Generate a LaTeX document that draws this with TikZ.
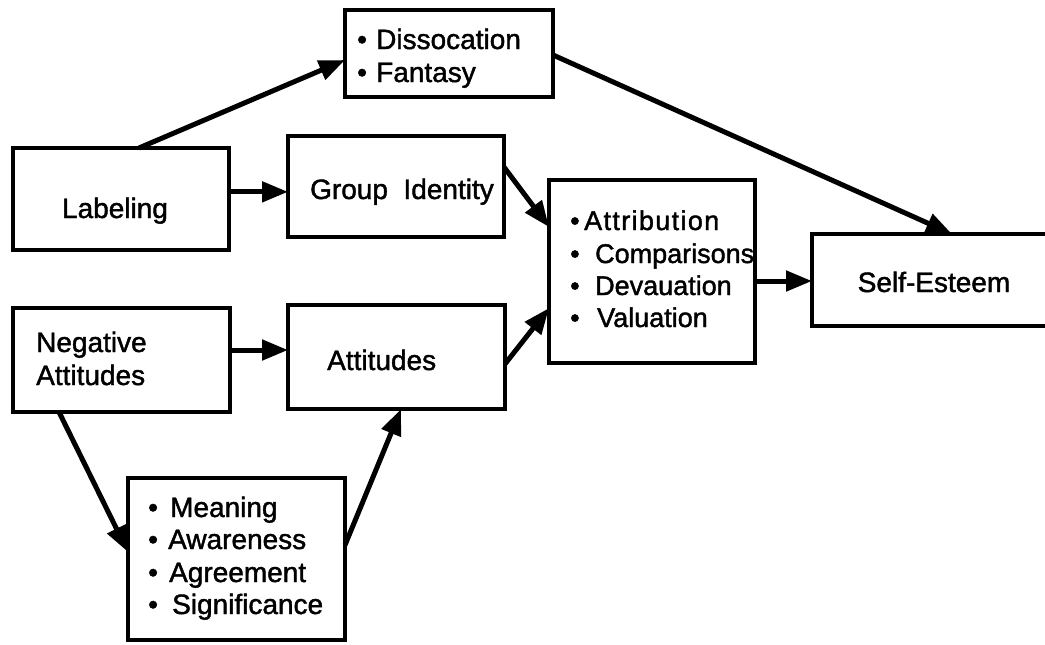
\documentclass[tikz,border=0pt]{standalone}
\usepackage{fontspec}
\setmainfont{Liberation Sans}[FakeBold=1.5]
\usetikzlibrary{arrows.meta,calc}
% bullet set in a box of given width, so the item text starts at a fixed place
\newcommand\bul[1]{\makebox[#1][l]{•}}
\tikzset{
  box/.style={draw, line width=3.5pt, inner sep=0pt, outer sep=0pt, anchor=north west},
  txt/.style={inner sep=0pt, font=\fontsize{28}{32}\selectfont},
  small/.style={font=\fontsize{27}{32}\selectfont},
  arr/.style={line width=5pt, -{Triangle[length=26pt,width=20pt]}},
}
\begin{document}
\begin{tikzpicture}[x=1pt,y=-1pt]
\useasboundingbox (0,0) rectangle (1045,645);

% boxes
\node[box, minimum width=208pt, minimum height=87pt]  (diss) at (345,10)  {};
\node[box, minimum width=216pt, minimum height=102pt] (lab)  at (13,148)  {};
\node[box, minimum width=216pt, minimum height=101pt] (gid)  at (288,136) {};
\node[box, minimum width=206pt, minimum height=183pt] (attr) at (549,180) {};
\node[box, minimum width=238pt, minimum height=92pt]  (self) at (812,234) {};
\node[box, minimum width=217pt, minimum height=104pt] (neg)  at (13,308)  {};
\node[box, minimum width=217pt, minimum height=104pt] (atts) at (288,305) {};
\node[box, minimum width=217pt, minimum height=162pt] (mean) at (128,478) {};

% texts
\node[txt, anchor=base west] (dissA) at (357,49) {\bul{19pt}Dissocation};
\node[txt, anchor=base west] (dissB) at (357,82) {\bul{19pt}Fantasy};
\node[txt, anchor=base] (labT) at (115,218) {Labeling};
\node[txt, anchor=base] (gidT) at (402,199) {Group\ \ Identity};
\node[txt, small, anchor=base west] (attrA) at (570,230) {\bul{14pt}{\addfontfeature{LetterSpace=5}Attribution}};
\node[txt, small, anchor=base west] (attrB) at (570,263) {\bul{25pt}Comparisons};
\node[txt, small, anchor=base west] (attrC) at (570,295) {\bul{25pt}Devauation};
\node[txt, small, anchor=base west] (attrD) at (570,327) {\bul{27pt}Valuation};
\node[txt, anchor=base] (selfT) at (934,292) {Self-Esteem};
\node[txt, anchor=base west] (negA) at (36,352) {Negative};
\node[txt, anchor=base west] (negB) at (36,385) {Attitudes};
\node[txt, anchor=base west] (attsT) at (327,370) {Attitudes};
\node[txt, anchor=base west] (meanA) at (148,517) {\bul{22pt}Meaning};
\node[txt, anchor=base west] (meanB) at (148,549) {\bul{20pt}Awareness};
\node[txt, anchor=base west] (meanC) at (148,582) {\bul{21pt}Agreement};
\node[txt, anchor=base west] (meanD) at (148,614) {\bul{24pt}Significance};

% connectors
\draw[arr] ($(lab.north west)!0.583!(lab.north east)$) -- ($(diss.north west)!0.575!(diss.south west)$);
\coordinate (labR) at ($(lab.north east)!0.43!(lab.south east)$);
\draw[arr] (labR) -- (labR -| gid.west);
\draw[arr] ($(gid.north east)!0.307!(gid.south east)$) -- ($(attr.north west)!0.257!(attr.south west)$);
\draw[arr] ($(diss.north east)!0.517!(diss.south east)$) -- ($(self.north west)!0.588!(self.north east)$);
\coordinate (attrR) at ($(attr.north east)!0.552!(attr.south east)$);
\draw[arr] (attrR) -- (attrR -| self.west);
\coordinate (negR) at ($(neg.north east)!0.404!(neg.south east)$);
\draw[arr] (negR) -- (negR -| atts.west);
\draw[arr] ($(atts.north east)!0.567!(atts.south east)$) -- ($(attr.north west)!0.70!(attr.south west)$);
\draw[arr] ($(neg.south west)!0.212!(neg.south east)$) -- ($(mean.north west)!0.457!(mean.south west)$);
\draw[arr] ($(mean.north east)!0.414!(mean.south east)$) -- ($(atts.south west)!0.521!(atts.south east)$);
\end{tikzpicture}
\end{document}
